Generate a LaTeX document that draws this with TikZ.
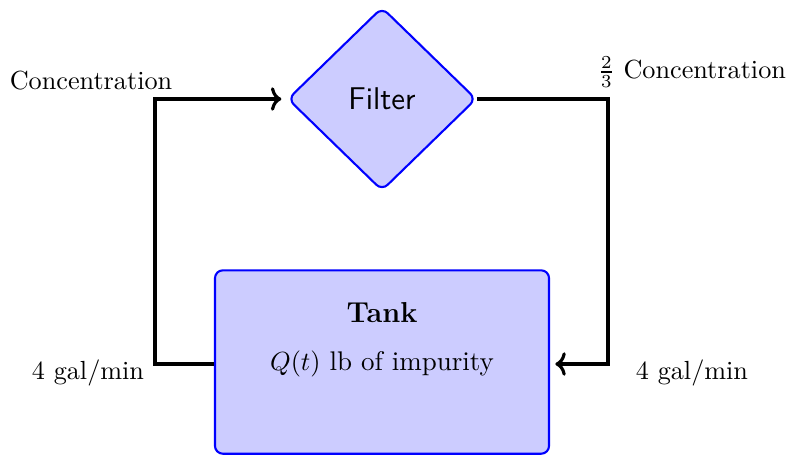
\documentclass[tikz,border=0pt]{standalone}
\usetikzlibrary{shapes.geometric,calc,arrows.meta}
\begin{document}
\begin{tikzpicture}[x=0.38168pt,y=-0.38168pt,
  unitbox/.style={draw=blue,thick,fill=blue!20,rounded corners=3pt},
  filterbox/.style={unitbox,diamond,inner sep=0pt,minimum width=72pt,minimum height=70pt,font=\large\sffamily},
  tankbox/.style={unitbox,rectangle,inner sep=0pt,minimum width=127.5pt,minimum height=70pt},
  flow/.style={very thick,-{To[width=9pt,length=4pt]}},
  lbl/.style={inner sep=0pt}]
  \useasboundingbox (0,0) rectangle (788,454);

  % process units
  \node[filterbox] (filter) at (382,99) {Filter};
  \node[tankbox] (tank) at (382,362) {};
  \node[lbl,font=\bfseries\fontsize{11}{13}\selectfont] (tanktitle) at (382,313) {Tank};
  \node[lbl,font=\fontsize{10.3}{12}\selectfont] (tankq) at (382,364) {$Q(t)$ lb of impurity};

  % bend points of the loop
  \coordinate (lbend) at (155,99);
  \coordinate (rbend) at (608,99);

  % flows
  \draw[flow] (tank.west |- tankq) -| (lbend) -- ([xshift=-2pt]filter.west);
  \draw[flow] (filter.east) -- (rbend) |- ([xshift=2pt]tank.east |- tankq);

  % flow labels
  \node[lbl] (cin) at (91,81) {Concentration};
  \node[lbl] (cout) at (692,72) {$\frac{2}{3}$ Concentration};
  \node[lbl] (rin) at (88,373) {4 gal/min};
  \node[lbl] (rout) at (692,373) {4 gal/min};
\end{tikzpicture}
\end{document}
